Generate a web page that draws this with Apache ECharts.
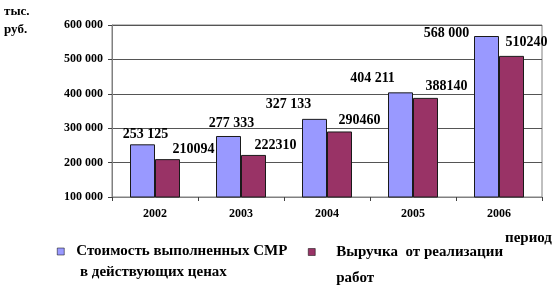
<!DOCTYPE html>
<html><head><meta charset="utf-8">
<script src="https://cdn.jsdelivr.net/npm/echarts@6/dist/echarts.min.js"></script>
<style>html,body{margin:0;padding:0;background:#fff}#c{width:558px;height:303px}</style>
</head><body><div id="c"></div>
<script>
const categories = ['2002', '2003', '2004', '2005', '2006'];
const costValues = [253125, 277333, 327133, 404211, 568000];
const revenueValues = [210094, 222310, 290460, 388140, 510240];
const seriesNames = ['Стоимость выполненных СМР в действующих ценах', 'Выручка от реализации работ'];
const legendLines = [['Стоимость выполненных СМР', ' в действующих ценах'], ['Выручка  от реализации', 'работ']];
const yTickValues = [100000, 200000, 300000, 400000, 500000, 600000];

// label placement (styling only)
const costLabelOffsets = [[3, -3], [3, -6], [-26, -7], [-28, -7], [-40, 4]];
const revLabelOffsets = [[26, -3], [22, -3], [20, -4], [21, -4], [15, -6]];

const FONT = 'Liberation Serif';
function spaced(v) { return String(v).replace(/\B(?=(\d{3})+(?!\d))/g, ' '); }

const chart = echarts.init(document.getElementById('c'), null, {renderer: 'canvas'});
const labelBase = {show: true, position: 'top', distance: 0, fontFamily: FONT, fontWeight: 'bold', fontSize: 14, lineHeight: 14, color: '#000'};

chart.setOption({
  animation: false,
  backgroundColor: '#fff',
  grid: {left: 112, right: 16, top: 25, bottom: 106, show: true, borderColor: '#808080', borderWidth: 1, outerBoundsMode: 'none', containLabel: false},
  legend: [
    {data: [seriesNames[0]], left: 57, top: 220, padding: 0, itemWidth: 7, itemHeight: 7, icon: 'rect',
     itemStyle: {borderColor: '#000', borderWidth: 0.5},
     formatter: () => '\n' + legendLines[0].join('\n'),
     textStyle: {fontFamily: FONT, fontWeight: 'bold', fontSize: 15, lineHeight: 21, color: '#000', padding: [0, 0, 0, 7]}},
    {data: [seriesNames[1]], left: 308, top: 213, padding: 0, itemWidth: 7, itemHeight: 7, icon: 'rect',
     itemStyle: {borderColor: '#000', borderWidth: 0.5},
     formatter: () => '\n' + legendLines[1].join('\n'),
     textStyle: {fontFamily: FONT, fontWeight: 'bold', fontSize: 15, lineHeight: 26, color: '#000', padding: [0, 0, 0, 16]}}
  ],
  xAxis: {
    type: 'category', data: categories, boundaryGap: true,
    name: 'период', nameLocation: 'end', nameGap: -37, nameMoveOverlap: false,
    nameTextStyle: {fontFamily: FONT, fontWeight: 'bold', fontSize: 15, color: '#000', align: 'left', verticalAlign: 'top', padding: [34, 0, 0, 0]},
    axisLine: {lineStyle: {color: '#808080', width: 1}},
    axisTick: {show: true, alignWithLabel: false, length: 4, lineStyle: {color: '#404040'}},
    axisLabel: {fontFamily: FONT, fontWeight: 'bold', fontSize: 12, color: '#000', margin: 11},
    splitLine: {show: false}
  },
  yAxis: {
    type: 'value', min: 100000, max: 600000, interval: 100000,
    name: 'тыс.\nруб.', nameLocation: 'end', nameGap: 22, nameMoveOverlap: false,
    nameTextStyle: {fontFamily: FONT, fontWeight: 'bold', fontSize: 13, lineHeight: 18, color: '#000', align: 'left', verticalAlign: 'top', padding: [0, 0, 0, -108]},
    axisLine: {show: true, lineStyle: {color: '#808080', width: 1}},
    axisTick: {show: true, length: 4, lineStyle: {color: '#404040'}},
    axisLabel: {fontFamily: FONT, fontWeight: 'bold', fontSize: 12, color: '#000', margin: 9,
      formatter: v => yTickValues.includes(v) ? spaced(v) : ''},
    splitLine: {lineStyle: {color: '#555', width: 1}}
  },
  series: [
    {name: seriesNames[0], type: 'bar', barWidth: 25, barGap: '0%',
     itemStyle: {color: '#9999FF', borderColor: '#1a1a1a', borderWidth: 1},
     data: costValues.map((v, i) => ({value: v, label: Object.assign({}, labelBase, {offset: costLabelOffsets[i]})})),
     label: Object.assign({}, labelBase, {formatter: p => spaced(p.value)})},
    {name: seriesNames[1], type: 'bar', barWidth: 25, barGap: '0%',
     itemStyle: {color: '#993366', borderColor: '#1a1a1a', borderWidth: 1},
     data: revenueValues.map((v, i) => ({value: v, label: Object.assign({}, labelBase, {offset: revLabelOffsets[i]})})),
     label: Object.assign({}, labelBase, {formatter: p => String(p.value)})}
  ]
});
</script></body></html>
